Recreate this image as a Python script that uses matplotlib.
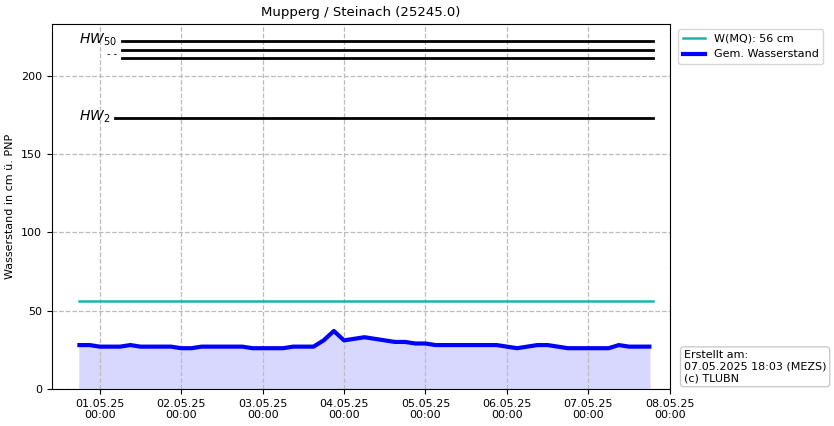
import matplotlib
matplotlib.use("Agg")
import matplotlib.pyplot as plt
import matplotlib.dates as mdates
import numpy as np
import pandas as pd

# 3-hourly gauge readings from 30.04.2025 18:00
start = "2025-04-30 18:00"
levels = [28, 28, 27, 27, 27, 28, 27, 27,   # to 01.05 15:00
          27, 27, 26, 26, 27, 27, 27, 27,   # to 02.05 15:00
          27, 26, 26, 26, 26, 27, 27, 27,   # to 03.05 15:00
          31, 37, 31, 32, 33, 32, 31, 30,   # to 04.05 15:00
          30, 29, 29, 28, 28, 28, 28, 28,   # to 05.05 15:00
          28, 28, 27, 26, 27, 28, 28, 27,   # to 06.05 15:00
          26, 26, 26, 26, 26, 28, 27, 27,   # to 07.05 15:00
          27]
times = pd.date_range(start, periods=len(levels), freq="3h")
mq = 56
hw_levels = [222, 216, 211, 173]
hw_labels = ["$HW_{50}$", "- -", "", "$HW_2$"]
hw_starts = ["2025-05-01 06:30", "2025-05-01 06:30", "2025-05-01 06:30", "2025-05-01 04:30"]

fig = plt.figure(figsize=(8.34, 4.26), dpi=100)
ax = fig.add_axes([0.062, 0.087, 0.741, 0.857])

t0, t1 = times[0], times[-1] + pd.Timedelta("1h")
ax.fill_between(times, levels, 0, color="#d8d8ff")
ax.plot([t0, t1], [mq, mq], color="#20b2aa", lw=1.8, label="W(MQ): 56 cm")
ax.plot(times, levels, color="blue", lw=3, label="Gem. Wasserstand")

for lvl, lab, xs in zip(hw_levels, hw_labels, hw_starts):
    xs = pd.Timestamp(xs)
    ax.plot([xs, t1], [lvl, lvl], color="black", lw=2)
    if lab:
        ax.text(xs - pd.Timedelta("1.5h"), lvl - (2 if "HW" not in lab else -1), lab,
                ha="right", va="center", fontsize=10 if "HW" in lab else 7)

ax.set_xlim(pd.Timestamp("2025-04-30 09:50"), pd.Timestamp("2025-05-08 00:00"))
ax.set_ylim(0, 233)
ax.xaxis.set_major_locator(mdates.DayLocator())
ax.xaxis.set_major_formatter(mdates.DateFormatter("%d.%m.%y\n%H:%M"))
ax.tick_params(labelsize=8)
ax.set_yticks([0, 50, 100, 150, 200])
ax.grid(True, linestyle="--", color="#bbbbbb", lw=0.9)
ax.set_ylabel("Wasserstand in cm ü. PNP", fontsize=8)
ax.set_title("Mupperg / Steinach (25245.0)", fontsize=9.5)

ax.legend(loc="upper left", bbox_to_anchor=(1.005, 1.0), fontsize=8)
fig.text(0.82, 0.1, "Erstellt am:\n07.05.2025 18:03 (MEZS)\n(c) TLUBN", fontsize=8,
         va="bottom", ha="left",
         bbox=dict(boxstyle="round", fc="white", ec="#cccccc"))

fig.savefig("out.png", dpi=100)
